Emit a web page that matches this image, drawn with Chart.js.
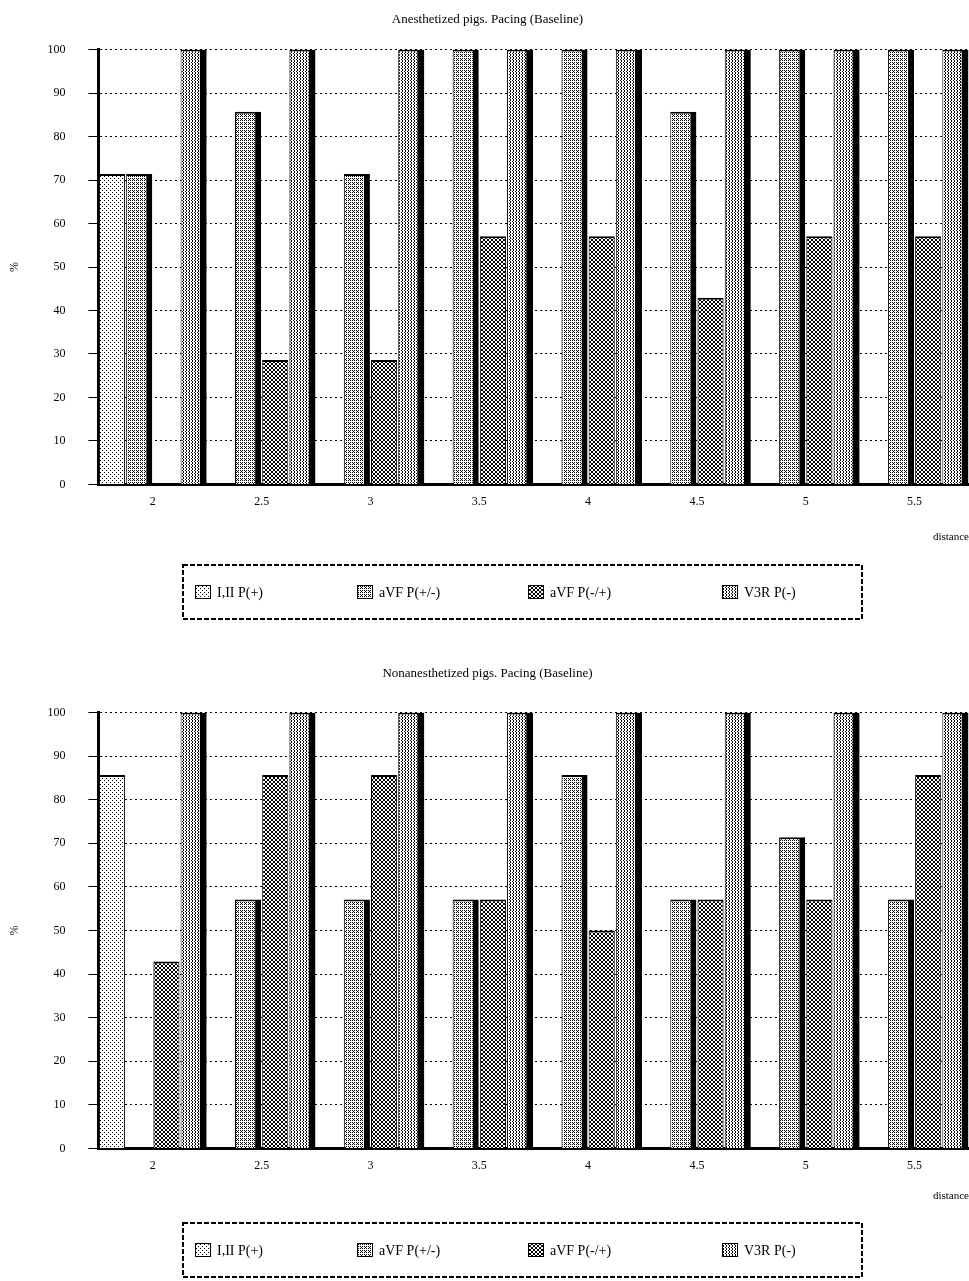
<!DOCTYPE html>
<html>
<head>
<meta charset="utf-8">
<script src="https://cdn.jsdelivr.net/npm/chart.js@4"></script>
<style>
  body { margin: 0; background: #fff; }
  .wrap { position: absolute; left: 0; width: 969px; }
</style>
</head>
<body>
<div class="wrap" style="top:0;height:640px"><canvas id="chart1"></canvas></div>
<div class="wrap" style="top:648px;height:633px"><canvas id="chart2"></canvas></div>
<script>
// x categories and legend names
const categories = ['2', '2.5', '3', '3.5', '4', '4.5', '5', '5.5'];
const seriesNames = ['I,II P(+)', 'aVF P(+/-)', 'aVF P(-/+)', 'V3R P(-)'];

// top chart (%)
const top1 = [71.4, 0, 0, 0, 0, 0, 0, 0];
const top2 = [71.4, 85.7, 71.4, 100, 100, 85.7, 100, 100];
const top3 = [0, 28.6, 28.6, 57.1, 57.1, 42.9, 57.1, 57.1];
const top4 = [100, 100, 100, 100, 100, 100, 100, 100];

// bottom chart (%)
const bottom1 = [85.7, 0, 0, 0, 0, 0, 0, 0];
const bottom2 = [0, 57.1, 57.1, 57.1, 85.7, 57.1, 71.4, 57.1];
const bottom3 = [42.9, 85.7, 85.7, 57.1, 50, 57.1, 57.1, 85.7];
const bottom4 = [100, 100, 100, 100, 100, 100, 100, 100];

const FONT = "'Liberation Serif', 'DejaVu Serif', serif";

// halftone-like fills, black dots on white
function makePattern(size, dots) {
  const c = document.createElement('canvas');
  c.width = c.height = size;
  const g = c.getContext('2d');
  g.fillStyle = '#fff';
  g.fillRect(0, 0, size, size);
  g.fillStyle = '#000';
  dots.forEach(([x, y]) => g.fillRect(x, y, 1, 1));
  return g.createPattern(c, 'repeat');
}

const fills = [
  makePattern(4, [[0, 0], [2, 2]]),
  makePattern(4, [[0, 0], [2, 0], [0, 2], [2, 2], [1, 3]]),
  makePattern(4, [[0, 0], [1, 1], [2, 2], [3, 3], [3, 0], [2, 1], [1, 2], [0, 3]]),
  makePattern(3, [[0, 0], [0, 1], [2, 2]])
];

const borders = [
  { top: 2, left: 1, right: 1, bottom: 0 },
  { top: 2, left: 1, right: 6, bottom: 0 },
  { top: 2, left: 1, right: 1, bottom: 0 },
  { top: 2, left: 1, right: 7, bottom: 0 }
];

// legend drawn by hand inside a dashed frame
const legendX = [195, 357, 528, 722];
const boxedLegend = {
  id: 'boxedLegend',
  afterDraw(chart, args, opts) {
    const ctx = chart.ctx;
    const mid = opts.mid;
    ctx.save();
    ctx.strokeStyle = '#000';
    ctx.lineWidth = 2;
    ctx.setLineDash([5, 2]);
    ctx.strokeRect(183, mid - 27, 862 - 183, 54);
    ctx.setLineDash([]);
    ctx.font = '14px ' + FONT;
    ctx.textBaseline = 'middle';
    chart.data.datasets.forEach((ds, i) => {
      const x = legendX[i];
      ctx.fillStyle = ds.backgroundColor;
      ctx.fillRect(x, mid - 7, 16, 14);
      ctx.lineWidth = 1;
      ctx.strokeRect(x + 0.5, mid - 6.5, 15, 13);
      ctx.fillStyle = '#000';
      ctx.fillText(ds.label, x + 22, mid + 1);
    });
    ctx.restore();
  }
};

function makeChart(id, title, values, pad) {
  const datasets = seriesNames.map((name, i) => ({
    label: name,
    data: values[i],
    backgroundColor: fills[i],
    borderColor: '#000',
    borderWidth: borders[i],
    categoryPercentage: 1.0,
    barPercentage: 0.96
  }));

  return new Chart(document.getElementById(id), {
    type: 'bar',
    data: { labels: categories, datasets: datasets },
    plugins: [boxedLegend],
    options: {
      responsive: true,
      maintainAspectRatio: false,
      animation: false,
      layout: { padding: { left: 6, right: 0, top: pad.top, bottom: pad.bottom } },
      plugins: {
        title: {
          display: true,
          text: title,
          color: '#000',
          font: { family: FONT, size: 13, weight: 'normal' },
          padding: { top: 4, bottom: pad.titleGap }
        },
        legend: { display: false },
        tooltip: { enabled: false },
        boxedLegend: { mid: pad.legendMid }
      },
      scales: {
        x: {
          grid: { display: false, drawTicks: true, tickLength: 4, color: '#000' },
          border: { color: '#000', width: 3 },
          ticks: { color: '#000', font: { family: FONT, size: 12 }, padding: 6 },
          title: {
            display: true,
            text: 'distance',
            align: 'end',
            color: '#000',
            font: { family: FONT, size: 11 },
            padding: { top: pad.xTitleGap, bottom: 0 }
          }
        },
        y: {
          min: 0,
          max: 100,
          ticks: { stepSize: 10, color: '#000', font: { family: FONT, size: 12 }, padding: 23 },
          grid: { color: '#000', lineWidth: 1, tickLength: 10 },
          border: { color: '#000', width: 3, dash: [2, 3] },
          title: {
            display: true,
            text: '%',
            color: '#000',
            font: { family: FONT, size: 12 },
            padding: 2
          }
        }
      }
    }
  });
}

makeChart('chart1', 'Anesthetized pigs. Pacing (Baseline)', [top1, top2, top3, top4],
  { top: 8, bottom: 96, titleGap: 22, xTitleGap: 16, legendMid: 592 });
makeChart('chart2', 'Nonanesthetized pigs. Pacing (Baseline)', [bottom1, bottom2, bottom3, bottom4],
  { top: 14, bottom: 78, titleGap: 31, xTitleGap: 11, legendMid: 602 });
</script>
</body>
</html>
